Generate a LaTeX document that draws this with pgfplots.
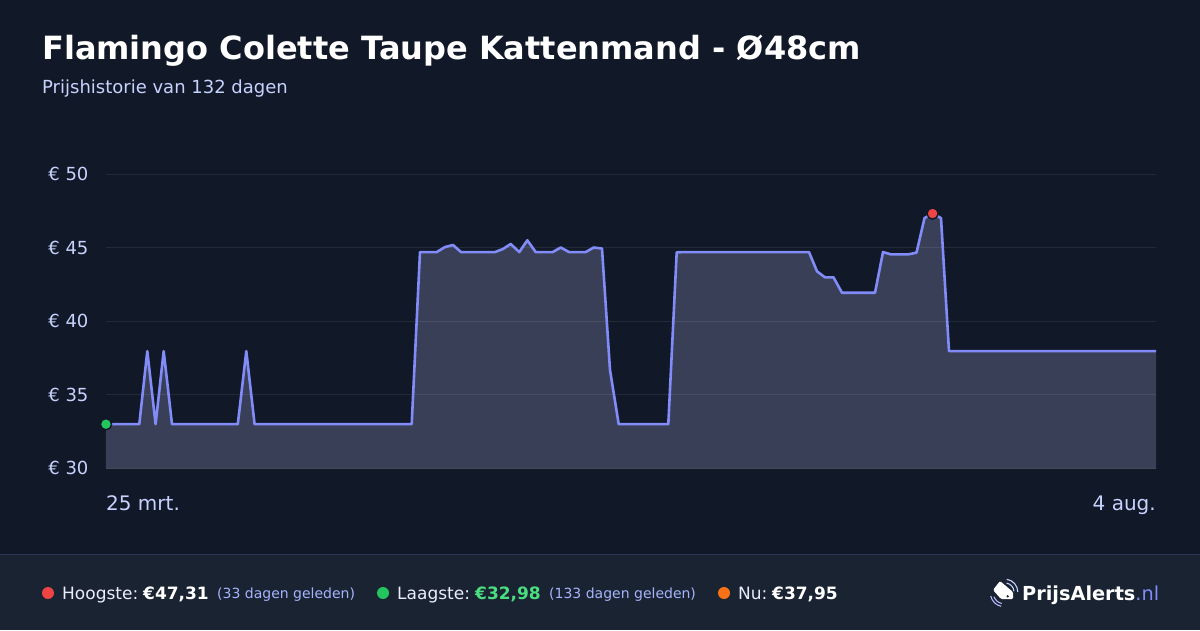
\documentclass[border=0pt]{standalone}
\usepackage{pgfplots}
\pgfplotsset{compat=1.18}
\usepackage{fontspec}
\setmainfont{DejaVu Sans}
\definecolor{bgtop}{HTML}{111827}
\definecolor{bgfoot}{HTML}{1A2332}
\definecolor{footline}{HTML}{2A3555}
\definecolor{lineblue}{HTML}{818CF8}
\definecolor{areafill}{HTML}{3A3F58}
\definecolor{subtxt}{HTML}{C7D2FE}
\definecolor{mutedtxt}{HTML}{A5B4FC}
\definecolor{redm}{HTML}{EF4444}
\definecolor{greenm}{HTML}{22C55E}
\definecolor{greent}{HTML}{4ADE80}
\definecolor{orangem}{HTML}{F97316}
\newcommand{\fs}[1]{\fontsize{#1}{#1}\selectfont}
\pgfplotstableread{
px price
106 32.98
139.3 32.98
147.3 37.95
155.6 32.98
163.7 37.95
172 32.98
237.8 32.98
246.3 37.95
254.6 32.98
411.7 32.98
420 44.69
436.7 44.69
445 45.03
453 45.17
461 44.69
495 44.69
503 44.90
510.7 45.24
519.3 44.69
527.3 45.49
535.7 44.69
552.7 44.69
560.7 45.00
569 44.69
585.7 44.69
593.7 45.00
602 44.93
610 36.67
618.7 32.98
668.3 32.98
676.7 44.67
685 44.69
809 44.69
817 43.38
825 42.97
833.5 42.97
842 41.92
875 41.92
883 44.69
891 44.53
908 44.53
916.5 44.65
924.5 47.00
932.6 47.31
941 47.00
949 37.95
1156 37.95
}\pricedata
\begin{document}
\begin{tikzpicture}[x=1pt,y=1pt]
\path[use as bounding box] (0,0) rectangle (1200,630);
\fill[bgtop] (0,0) rectangle (1200,630);
\fill[bgfoot] (0,0) rectangle (1200,76);
\draw[footline,line width=1pt] (0,75.5) -- (1200,75.5);
\node[anchor=base west,inner sep=0pt,text=white] at (42,570.2) {\fs{32}\bfseries Flamingo Colette Taupe Kattenmand - Ø48cm};
\node[anchor=base west,inner sep=0pt,text=subtxt] at (42,536.7) {\fs{18}Prijshistorie van 132 dagen};
\begin{axis}[
  at={(106pt,162pt)},anchor=south west,
  width=1050pt,height=294pt,scale only axis,
  xmin=106,xmax=1156,ymin=30,ymax=50,
  axis line style={draw=none},
  xtick=\empty,
  ytick={30,35,40,45,50},
  yticklabels={€ 30,€ 35,€ 40,€ 45,€ 50},
  major tick length=0pt,
  yticklabel style={text=subtxt,font=\fs{18},anchor=east,xshift=-14pt},
  clip=false,
]
\addplot[draw=none,fill=areafill] table[x=px,y=price] {\pricedata} -- (axis cs:1156,30) -- (axis cs:106,30) -- cycle;
\addplot[white,opacity=0.08,line width=1pt] coordinates {(106,35) (1156,35)};
\addplot[white,opacity=0.08,line width=1pt] coordinates {(106,40) (1156,40)};
\addplot[white,opacity=0.08,line width=1pt] coordinates {(106,45) (1156,45)};
\addplot[white,opacity=0.08,line width=1pt] coordinates {(106,50) (1156,50)};
\addplot[white,opacity=0.2,line width=1pt] coordinates {(106,30) (1156,30)};
\addplot[lineblue,line width=2.6pt,line join=round] table[x=px,y=price] {\pricedata};
\addplot[only marks,mark=*,mark size=5.6pt,mark options={fill=greenm,draw=bgtop,line width=1.4pt}] coordinates {(106,32.98)};
\addplot[only marks,mark=*,mark size=5.6pt,mark options={fill=redm,draw=bgtop,line width=1.4pt}] coordinates {(932.6,47.31)};
\end{axis}
\node[anchor=base west,inner sep=0pt,text=subtxt] at (106,120) {\fs{20}25 mrt.};
\node[anchor=base east,inner sep=0pt,text=subtxt] at (1156,120) {\fs{20}4 aug.};
% footer
\fill[redm] (48,37) circle (6);
\node[anchor=base west,inner sep=0pt,text=subtxt!40!white] at (62,31) {\fs{17}Hoogste:};
\node[anchor=base west,inner sep=0pt,text=white] at (143,31) {\fs{17}\bfseries €47,31};
\node[anchor=base west,inner sep=0pt,text=mutedtxt] at (217,32) {\fs{14}(33 dagen geleden)};
\fill[greenm] (383,37) circle (6);
\node[anchor=base west,inner sep=0pt,text=subtxt!40!white] at (397,31) {\fs{17}Laagste:};
\node[anchor=base west,inner sep=0pt,text=greent] at (475,31) {\fs{17}\bfseries €32,98};
\node[anchor=base west,inner sep=0pt,text=mutedtxt] at (549,32) {\fs{14}(133 dagen geleden)};
\fill[orangem] (724,37) circle (6);
\node[anchor=base west,inner sep=0pt,text=subtxt!40!white] at (738,31) {\fs{17}Nu:};
\node[anchor=base west,inner sep=0pt,text=white] at (772,31) {\fs{17}\bfseries €37,95};
% logo
\fill[white,rounded corners=1.2pt] (993,40) -- (1000,49) -- (1013,38) -- (1013,31) -- (1001,31) -- cycle;
\fill[bgfoot] (1007.7,33.7) circle (1.3);
\draw[subtxt,line width=1.1pt] (1005,38) ++(82:12.8) arc (82:0:12.8);
\draw[subtxt,line width=1.1pt] (1005,38) ++(80:9) arc (80:5:9);
\draw[lineblue!60!white,line width=1.1pt] (1004,37) ++(193:13.6) arc (193:258:13.6);
\draw[lineblue!60!white,line width=1.1pt] (1004,37) ++(200:10.7) arc (200:258:10.7);
\node[anchor=base west,inner sep=0pt,text=white] at (1022,30) {\fs{19.3}\bfseries PrijsAlerts\textcolor{lineblue}{\mdseries .nl}};
\end{tikzpicture}
\end{document}
